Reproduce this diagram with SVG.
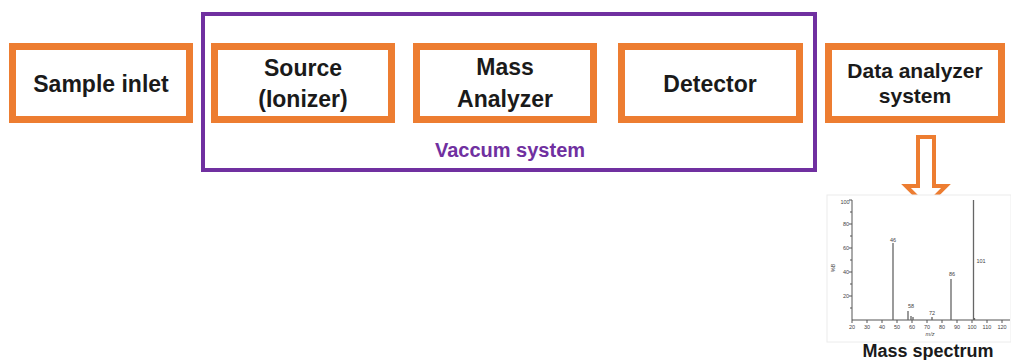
<svg xmlns="http://www.w3.org/2000/svg" width="1011" height="360" viewBox="0 0 1011 360">
<style>
.box{fill:#fff;stroke:#ED7D31;stroke-width:7}
.lbl{font-family:"Liberation Sans",Arial,sans-serif;font-weight:700;fill:#1a1a1a;text-anchor:middle}
.big{font-size:23px}
.mid{font-size:21px}
.tk{font-family:"Liberation Sans",Arial,sans-serif;font-size:5.5px;fill:#444;text-anchor:middle}
.ax{stroke:#555;stroke-width:1;fill:none}
.pk{stroke:#666;stroke-width:1.3}
</style>
<rect width="1011" height="360" fill="#fff"/>
<g id="vacuum-system">
<rect x="203" y="14" width="612" height="156" fill="none" stroke="#7030A0" stroke-width="4"/>
<text x="510" y="157" class="lbl" style="font-size:20px;fill:#7030A0">Vaccum system</text>
</g>
<g id="sample-inlet">
<rect class="box" x="12.5" y="46.5" width="177" height="73"/>
<text class="lbl big" x="101" y="92">Sample inlet</text>
</g>
<g id="source">
<rect class="box" x="214.5" y="46.5" width="177" height="73"/>
<text class="lbl big" x="303" y="76">Source</text>
<text class="lbl big" x="303" y="107">(Ionizer)</text>
</g>
<g id="mass-analyzer">
<rect class="box" x="416.5" y="46.5" width="177" height="73"/>
<text class="lbl big" x="505" y="75">Mass</text>
<text class="lbl big" x="505" y="107">Analyzer</text>
</g>
<g id="detector">
<rect class="box" x="621.5" y="46.5" width="178" height="73"/>
<text class="lbl big" x="710" y="92">Detector</text>
</g>
<g id="data-analyzer">
<rect class="box" x="828.5" y="46.5" width="173" height="73"/>
<text class="lbl mid" x="915" y="78">Data analyzer</text>
<text class="lbl mid" x="915" y="103">system</text>
</g>
<g id="connectors">
<path d="M918,137 H934 V186 H946 L926,206 L906,186 H918 Z" fill="#fff" stroke="#ED7D31" stroke-width="4" stroke-linejoin="miter"/>
</g>
<g id="mass-spectrum">
<rect x="827" y="195" width="184" height="147" fill="#fff" stroke="#ececec" stroke-width="1"/>
<path class="ax" d="M852,200 V320 H1010"/>
<path class="ax" d="M849,200 H852 M849,224 H852 M849,248 H852 M849,272 H852 M849,296 H852 M850,212 H852 M850,236 H852 M850,260 H852 M850,284 H852 M850,308 H852"/>
<path class="ax" d="M852,320 V323 M867,320 V323 M882,320 V323 M897,320 V323 M912,320 V323 M927,320 V323 M942,320 V323 M957,320 V323 M972,320 V323 M987,320 V323 M1002,320 V323"/>
<text class="tk" x="845" y="204">100</text>
<text class="tk" x="846" y="226">80</text>
<text class="tk" x="846" y="250">60</text>
<text class="tk" x="846" y="274">40</text>
<text class="tk" x="846" y="298">20</text>
<text class="tk" x="835" y="268" transform="rotate(-90 835 268)">%B</text>
<text class="tk" x="852" y="329">20</text>
<text class="tk" x="867" y="329">30</text>
<text class="tk" x="882" y="329">40</text>
<text class="tk" x="897" y="329">50</text>
<text class="tk" x="912" y="329">60</text>
<text class="tk" x="927" y="329">70</text>
<text class="tk" x="942" y="329">80</text>
<text class="tk" x="957" y="329">90</text>
<text class="tk" x="972" y="329">100</text>
<text class="tk" x="987" y="329">110</text>
<text class="tk" x="1002" y="329">120</text>
<text class="tk" x="930" y="336" style="font-style:italic">m/z</text>
<path class="pk" d="M893,320 V243 M908,320 V311 M911,320 V316 M913,320 V317 M932,320 V317 M951,320 V279 M973.5,320 V200 M974.5,320 V318"/>
<text class="tk" x="893" y="242">46</text>
<text class="tk" x="911" y="308">58</text>
<text class="tk" x="932" y="315">72</text>
<text class="tk" x="952" y="276">86</text>
<text class="tk" x="981" y="263">101</text>
<text class="lbl" x="928" y="357" style="font-size:18px">Mass spectrum</text>
</g>
</svg>
